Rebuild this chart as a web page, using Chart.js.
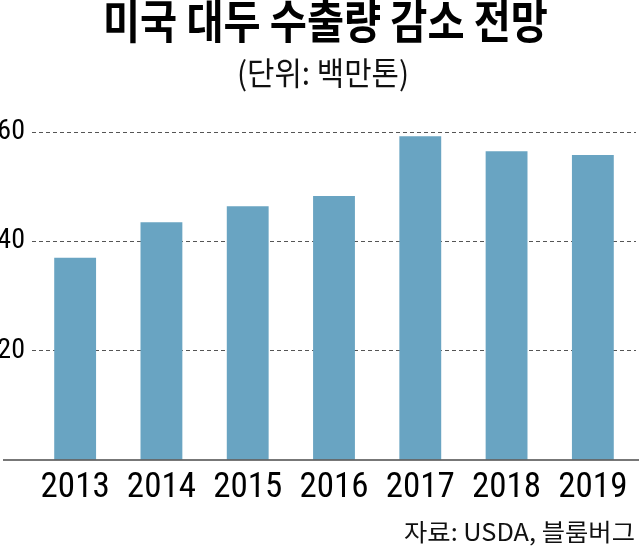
<!DOCTYPE html>
<html><head><meta charset="utf-8">
<script src="https://cdn.jsdelivr.net/npm/chart.js@4/dist/chart.umd.min.js"></script>
<style>
html,body{margin:0;padding:0;background:#fff;}
#wrap{position:relative;width:639px;height:546px;overflow:hidden;}
canvas{position:absolute;left:0;top:0;}
.txt{position:absolute;white-space:nowrap;line-height:1;font-family:"Noto Sans CJK KR",sans-serif;color:#000;}
#title{top:-5px;font-size:46px;font-weight:bold;transform-origin:0 0;}
#subtitle{top:55px;font-size:32px;transform-origin:0 0;color:#111;}
#src{top:519px;font-size:24px;transform-origin:0 0;color:#111;}
</style></head>
<body><div id="wrap"><canvas id="c" width="639" height="546"></canvas>
<div id="title" class="txt"></div><div id="subtitle" class="txt"></div><div id="src" class="txt"></div></div>
<script>
const categories = ["2013","2014","2015","2016","2017","2018","2019"];
const exportsVal = [37.0, 43.5, 46.4, 48.3, 59.2, 56.5, 55.8];
const yTicks = [20, 40, 60];
const titleText = "미국 대두 수출량 감소 전망";
const subtitleText = "(단위: 백만톤)";
const sourceText = "자료: USDA, 블룸버그";

function place(id, text, left, width){
  const el = document.getElementById(id);
  el.textContent = text;
  const w = el.getBoundingClientRect().width;
  el.style.left = left + 'px';
  el.style.transform = 'scaleX(' + (width / w) + ')';
}
place('title', titleText, 103, 445);
place('subtitle', subtitleText, 237, 172);
place('src', sourceText, 404, 231);

const baseline = {
  id:'baseline',
  afterDatasetsDraw(chart){
    const y = chart.scales.y.getPixelForValue(0);
    const ctx = chart.ctx;
    ctx.save();
    ctx.strokeStyle = '#4a4a4a';
    ctx.lineWidth = 1.5;
    ctx.beginPath();
    ctx.moveTo(3, y); ctx.lineTo(chart.width, y);
    ctx.stroke();
    ctx.restore();
  }
};

const numFont = '"Roboto", "Liberation Sans", sans-serif';

new Chart(document.getElementById('c'), {
  type:'bar',
  data:{labels:categories, datasets:[{data:exportsVal, backgroundColor:'#69a4c2', borderWidth:0, categoryPercentage:0.97, barPercentage:0.5}]},
  options:{
    responsive:false, animation:false,
    layout:{autoPadding:false, padding:{left:0,right:3,top:132,bottom:30}},
    plugins:{ legend:{display:false}, tooltip:{enabled:false}, title:{display:false} },
    scales:{
      x:{grid:{display:false, drawTicks:false}, border:{display:false},
         ticks:{color:'#000', padding:7, maxRotation:0, autoSkip:false, font:{family:numFont, size:35, weight:'condensed'}}},
      y:{min:0, max:60, afterFit(s){s.width=32;},
         afterBuildTicks(s){s.ticks = [0].concat(yTicks).map(v=>({value:v}));},
         grid:{drawTicks:false, color:(c)=>c.tick.value===0?'rgba(0,0,0,0)':'#555', lineWidth:1},
         border:{display:false, dash:[4,3]},
         ticks:{padding:7, color:'#000', callback:(v)=>v===0?'':v, font:{family:numFont, size:28, weight:'condensed'}}}
    }
  },
  plugins:[baseline]
});
</script></body></html>
